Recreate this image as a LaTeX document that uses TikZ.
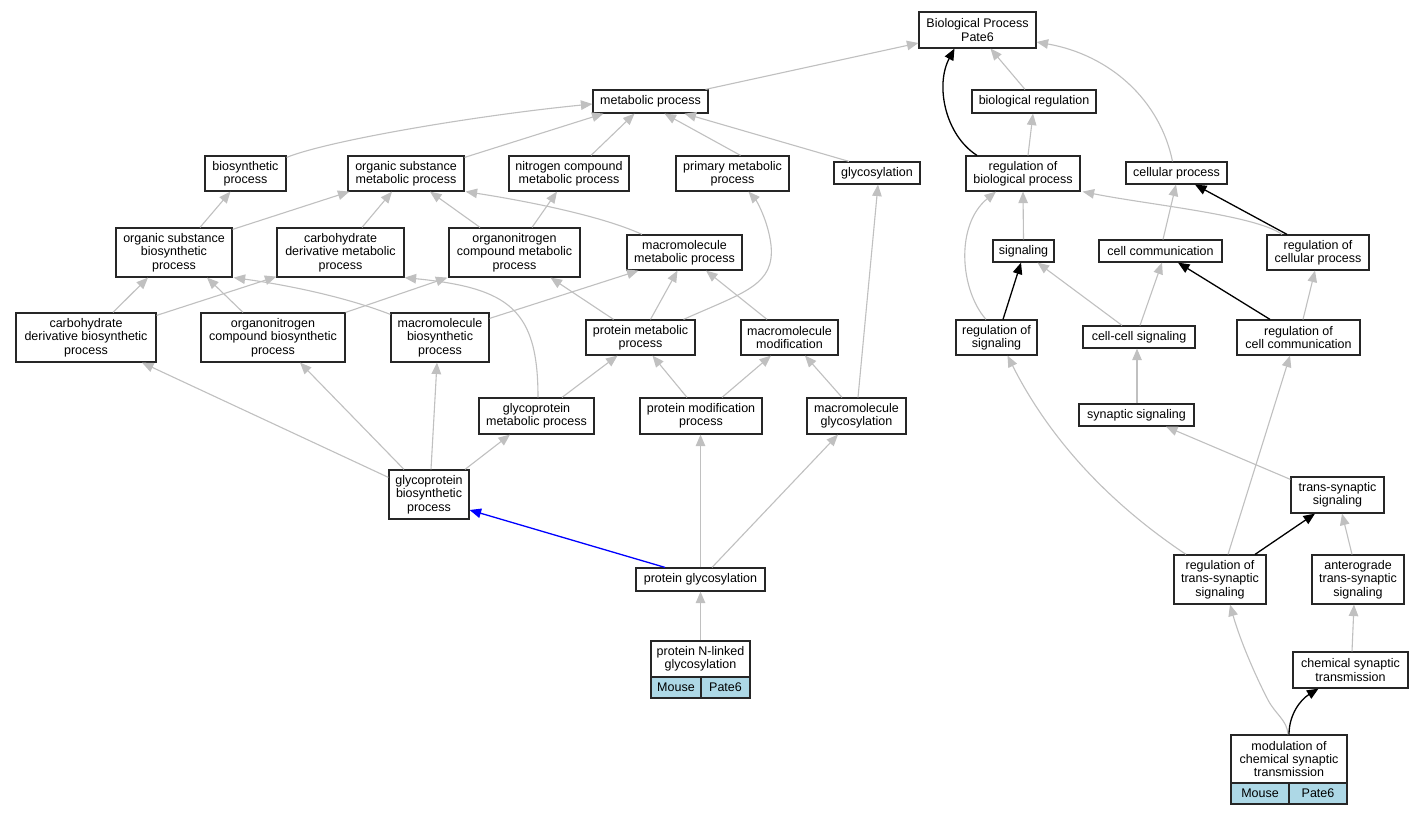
\documentclass[tikz,border=0pt]{standalone}
\usepackage{fontspec}
\setmainfont{Liberation Sans}
\usetikzlibrary{arrows.meta}
\definecolor{edgegray}{RGB}{192,192,192}
\definecolor{cellblue}{RGB}{173,216,230}
\begin{document}
\begin{tikzpicture}[x=1pt,y=-1pt,
 box/.style={draw=black!85,line width=1.2pt,fill=white,inner sep=0pt,align=center,font=\fontsize{12.5}{13.3}\selectfont},
 cell/.style={box,fill=cellblue},
 sz/.style 2 args={minimum width=#1pt,minimum height=#2pt},
 ge/.style={draw=edgegray,line width=1.1pt,-{Triangle[length=11.5pt,width=9.5pt]}},
 be/.style={draw=black,line width=1.3pt,-{Triangle[length=11.5pt,width=9.5pt]}},
 ble/.style={draw=blue,line width=1.3pt,-{Triangle[length=11.5pt,width=9.5pt]}},
]
\useasboundingbox[fill=white] (0,0) rectangle (1424,816);

\node[box,sz={117}{36}] (BP) at (977.5,30) {Biological Process\\Pate6};
\node[box,sz={115}{23}] (metab) at (650.5,101.5) {metabolic process};
\node[box,sz={124}{23}] (bioreg) at (1034,101.5) {biological regulation};
\node[box,sz={81}{35}] (biosyn) at (245.5,173.5) {biosynthetic\\process};
\node[box,sz={116}{35}] (orgsubmet) at (406,173.5) {organic substance\\metabolic process};
\node[box,sz={120}{35}] (nitro) at (569,173.5) {nitrogen compound\\metabolic process};
\node[box,sz={113}{35}] (primary) at (732.5,173.5) {primary metabolic\\process};
\node[box,sz={86}{22}] (glycos) at (877,173) {glycosylation};
\node[box,sz={114}{35}] (regbio) at (1023,173.5) {regulation of\\biological process};
\node[box,sz={101}{22}] (cellular) at (1176.5,173) {cellular process};
\node[box,sz={116}{49}] (orgsubbio) at (174,252.5) {organic substance\\biosynthetic\\process};
\node[box,sz={127}{49}] (carbmet) at (340.5,252.5) {carbohydrate\\derivative metabolic\\process};
\node[box,sz={131}{49}] (orgnitmet) at (514.5,252.5) {organonitrogen\\compound metabolic\\process};
\node[box,sz={115}{35}] (macmet) at (684.5,252.5) {macromolecule\\metabolic process};
\node[box,sz={61}{22}] (signaling) at (1023.5,251) {signaling};
\node[box,sz={123}{22}] (cellcomm) at (1160.5,251) {cell communication};
\node[box,sz={102}{35}] (regcell) at (1318,252.5) {regulation of\\cellular process};
\node[box,sz={140}{49}] (carbbio) at (86,337.5) {carbohydrate\\derivative biosynthetic\\process};
\node[box,sz={144}{49}] (orgnitbio) at (273,337.5) {organonitrogen\\compound biosynthetic\\process};
\node[box,sz={98}{49}] (macbio) at (440,337.5) {macromolecule\\biosynthetic\\process};
\node[box,sz={109}{35}] (protmet) at (640.5,337.5) {protein metabolic\\process};
\node[box,sz={97}{35}] (macmod) at (789.5,337.5) {macromolecule\\modification};
\node[box,sz={81}{35}] (regsig) at (996.5,337.5) {regulation of\\signaling};
\node[box,sz={112}{22}] (cellcell) at (1139,337) {cell-cell signaling};
\node[box,sz={123}{35}] (regcellcomm) at (1298.5,337.5) {regulation of\\cell communication};
\node[box,sz={115}{36}] (glymet) at (536.5,416) {glycoprotein\\metabolic process};
\node[box,sz={122}{36}] (protmod) at (701,416) {protein modification\\process};
\node[box,sz={99}{36}] (macgly) at (856.5,416) {macromolecule\\glycosylation};
\node[box,sz={115}{22}] (synsig) at (1136.5,415) {synaptic signaling};
\node[box,sz={80}{49}] (glybio) at (429,494.5) {glycoprotein\\biosynthetic\\process};
\node[box,sz={93}{36}] (transsyn) at (1337.5,495) {trans-synaptic\\signaling};
\node[box,sz={129}{23}] (protgly) at (700.5,579.5) {protein glycosylation};
\node[box,sz={92}{49}] (regtrans) at (1220,579.5) {regulation of\\trans-synaptic\\signaling};
\node[box,sz={92}{49}] (antero) at (1358,579.5) {anterograde\\trans-synaptic\\signaling};
\node[box,sz={99}{36}] (nlinked) at (700.5,659) {protein N-linked\\glycosylation};
\node[cell,sz={50}{21}] (nlmouse) at (676,687.5) {Mouse};
\node[cell,sz={49}{21}] (nlpate) at (725.5,687.5) {Pate6};
\node[box,sz={115}{36}] (chemsyn) at (1350.5,670) {chemical synaptic\\transmission};
\node[box,sz={116}{48}] (modul) at (1289,759) {modulation of\\chemical synaptic\\transmission};
\node[cell,sz={58}{21}] (mdmouse) at (1260,793.5) {Mouse};
\node[cell,sz={58}{21}] (mdpate) at (1318,793.5) {Pate6};

% top
\draw[ge] ([xshift=55pt]metab.north) -- ([yshift=-13pt]BP.west);
\draw[ge] ([xshift=-9pt]bioreg.north) -- ([xshift=13pt]BP.south);
\draw[ge] ([xshift=-4pt]cellular.north) .. controls (1160,100) and (1110,55) .. ([yshift=-12pt]BP.east);
\draw[be] ([xshift=-46pt]regbio.north) .. controls (945,135) and (935,85) .. ([xshift=-23pt]BP.south);
\draw[ge] ([xshift=5pt]regbio.north) -- ([xshift=-1pt]bioreg.south);
% to metabolic
\draw[ge] ([yshift=-2pt]biosyn.north east) .. controls (330,140) and (480,115) .. ([yshift=-2.5pt]metab.west);
\draw[ge] ([yshift=-2pt]orgsubmet.north east) -- ([xshift=-47pt]metab.south);
\draw[ge] ([xshift=22pt]nitro.north) -- ([xshift=-16pt]metab.south);
\draw[ge] ([xshift=8pt]primary.north) -- ([xshift=14pt]metab.south);
\draw[ge] ([xshift=-28pt]glycos.north) -- ([xshift=34pt]metab.south);
% level 3
\draw[ge] ([xshift=26pt]orgsubbio.north) -- ([xshift=-15pt]biosyn.south);
\draw[ge] ([yshift=-2pt]orgsubbio.north east) -- ([xshift=2pt]orgsubmet.south west);
\draw[ge] ([xshift=21.5pt]carbmet.north) -- ([xshift=-14pt]orgsubmet.south);
\draw[ge] ([xshift=-34.5pt]orgnitmet.north) -- ([xshift=24pt]orgsubmet.south);
\draw[ge] ([xshift=17.5pt]orgnitmet.north) -- ([xshift=-12pt]nitro.south);
\draw[ge] ([xshift=-42.5pt]macmet.north) .. controls (600,215) and (520,200) .. ([xshift=1pt]orgsubmet.south east);
% level 4
\draw[ge] ([xshift=27pt]carbbio.north) -- ([xshift=-26pt]orgsubbio.south);
\draw[ge] ([yshift=-3pt]carbbio.north east) -- ([yshift=1pt]carbmet.south west);
\draw[ge] ([xshift=-30pt]orgnitbio.north) -- ([xshift=33pt]orgsubbio.south);
\draw[ge] (orgnitbio.north east) -- ([xshift=-1pt]orgnitmet.south west);
\draw[ge] ([yshift=-2pt]macbio.north west) .. controls (340,295) and (280,284) .. ([xshift=1pt]orgsubbio.south east);
\draw[ge] ([yshift=-6pt]macbio.north east) -- ([xshift=-46pt]macmet.south);
\draw[ge] ([xshift=10pt]protmet.north) -- ([xshift=-7pt]macmet.south);
\draw[ge] ([xshift=-27pt]protmet.north) -- ([xshift=36pt]orgnitmet.south);
\draw[ge] ([xshift=43pt]protmet.north) .. controls (745,292) and (775,285) .. (771,245) .. controls (768,220) and (756,200) .. ([xshift=16pt]primary.south);
\draw[ge] ([xshift=-22.5pt]macmod.north) -- ([xshift=21.5pt]macmet.south);
% level 5
\draw[ge] ([xshift=1.5pt]glymet.north) .. controls (538,310) and (510,288) .. (carbmet.south east);
\draw[ge] ([xshift=25.5pt]glymet.north) -- ([xshift=-23pt]protmet.south);
\draw[ge] ([xshift=-14pt]protmod.north) -- ([xshift=12pt]protmet.south);
\draw[ge] ([xshift=21pt]protmod.north) -- ([xshift=-18.5pt]macmod.south);
\draw[ge] ([xshift=-14.5pt]macgly.north) -- ([xshift=15.5pt]macmod.south);
\draw[ge] ([xshift=1.5pt]macgly.north) -- ([xshift=1pt]glycos.south);
% level 6
\draw[ge] ([yshift=-8pt]glybio.north west) -- ([xshift=56pt]carbbio.south);
\draw[ge] ([xshift=-25pt]glybio.north) -- ([xshift=27pt]orgnitbio.south);
\draw[ge] ([xshift=2pt]glybio.north) -- ([xshift=-3pt]macbio.south);
\draw[ge] ([xshift=36pt]glybio.north) -- ([xshift=-26.5pt]glymet.south);
\draw[ge] (protgly.north) -- (protmod.south -| protgly.north);
\draw[ge] ([xshift=11.5pt]protgly.north) -- ([xshift=-18.5pt]macgly.south);
\draw[ble] ([xshift=-35.5pt]protgly.north) -- ([yshift=-15.5pt]glybio.east);
\draw[ge] (nlinked.north) -- (protgly.south);
% right
\draw[ge] (signaling.north) -- (regbio.south);
\draw[ge] ([xshift=-10.5pt]regsig.north) .. controls (960,290) and (955,225) .. ([xshift=-27pt]regbio.south);
\draw[be] ([xshift=6.5pt]regsig.north) -- ([xshift=-2.5pt]signaling.south);
\draw[ge] ([xshift=-17pt]cellcell.north) -- ([xshift=14pt]signaling.south);
\draw[ge] ([xshift=1pt]cellcell.north) -- ([xshift=1.5pt]cellcomm.south);
\draw[ge] ([xshift=2.5pt]cellcomm.north) -- ([xshift=-0.5pt]cellular.south);
\draw[be] ([xshift=-31pt]regcell.north) -- ([xshift=18.5pt]cellular.south);
\draw[ge] ([xshift=-36pt]regcell.north) .. controls (1255,215) and (1150,205) .. ([xshift=2pt]regbio.south east);
\draw[be] ([xshift=-28.5pt]regcellcomm.north) -- ([xshift=17.5pt]cellcomm.south);
\draw[ge] ([xshift=4.5pt]regcellcomm.north) -- ([xshift=-3pt]regcell.south);
\draw[ge] ([xshift=0.5pt]synsig.north) -- ([xshift=-2pt]cellcell.south);
\draw[ge] ([yshift=-3pt]transsyn.north west) -- ([xshift=29.5pt]synsig.south);
\draw[ge] ([xshift=-34pt]regtrans.north) .. controls (1100,497) and (1045,430) .. ([xshift=11pt]regsig.south);
\draw[ge] ([xshift=8pt]regtrans.north) -- ([xshift=-8.5pt]regcellcomm.south);
\draw[be] ([xshift=35pt]regtrans.north) -- ([xshift=-22.5pt]transsyn.south);
\draw[ge] ([xshift=-6pt]antero.north) -- ([xshift=4.5pt]transsyn.south);
\draw[ge] ([xshift=1.5pt]chemsyn.north) -- ([xshift=-4pt]antero.south);
\draw[ge] ([xshift=-1pt]modul.north) .. controls (1287,720) and (1276,715) .. (1268,700) .. controls (1255,675) and (1240,640) .. ([xshift=10pt]regtrans.south);
\draw[be] (modul.north) .. controls (1289,715) and (1300,700) .. ([xshift=-32pt]chemsyn.south);
\end{tikzpicture}
\end{document}
